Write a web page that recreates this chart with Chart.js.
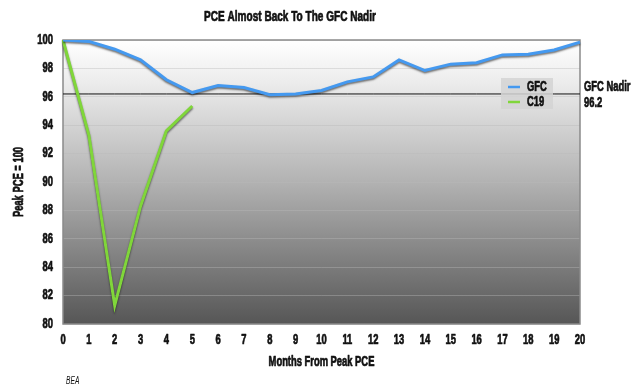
<!DOCTYPE html>
<html>
<head>
<meta charset="utf-8">
<script src="https://cdn.jsdelivr.net/npm/chart.js@4/dist/chart.umd.min.js"></script>
<style>
  html, body { margin: 0; padding: 0; background: #fff; }
  #wrap { width: 640px; height: 390px; position: relative; }
</style>
</head>
<body>
<div id="wrap"><canvas id="c" width="640" height="390"></canvas></div>
<script>
const months = ['0','1','2','3','4','5','6','7','8','9','10','11','12','13','14','15','16','17','18','19','20'];
const gfcValues = [100, 99.9, 99.35, 98.6, 97.2, 96.3, 96.8, 96.65, 96.15, 96.2, 96.45, 97.05, 97.4, 98.6, 97.85, 98.3, 98.4, 98.95, 99.0, 99.3, 99.85];
const c19Values = [100, 93.3, 81.3, 88.3, 93.6, 95.35];
const nadirValue = 96.2;
const nadirLabel = 'GFC Nadir';
const seriesNames = ['GFC', 'C19'];
const yTicksMin = 80, yTicksMax = 100, yTicksStep = 2;
const titleText = 'PCE Almost Back To The GFC Nadir';
const xTitle = 'Months From Peak PCE';
const yTitle = 'Peak PCE = 100';
const sourceText = 'BEA';

// Condensed, heavy look: compress all canvas text horizontally around its anchor
const SX = 0.67;
(function () {
  const proto = CanvasRenderingContext2D.prototype;
  const origFill = proto.fillText;
  const origStroke = proto.strokeText;
  proto.fillText = function (t, x, y, mw) {
    this.save();
    this.translate(x, y);
    this.scale(SX, 1);
    const bold = /bold/.test(this.font);
    if (mw !== undefined) origFill.call(this, t, 0, 0, mw / SX);
    else origFill.call(this, t, 0, 0);
    if (bold) {
      this.lineWidth = 0.7;
      this.lineJoin = 'round';
      this.strokeStyle = this.fillStyle;
      if (mw !== undefined) origStroke.call(this, t, 0, 0, mw / SX);
      else origStroke.call(this, t, 0, 0);
    }
    this.restore();
  };
})();

const FONT = "'Liberation Sans', Arial, Helvetica, sans-serif";
const BLUE = '#4499f0';
const GREEN = '#80d63a';

const bgPlugin = {
  id: 'bgPlugin',
  beforeDraw(chart) {
    const { ctx, chartArea: a } = chart;
    const g = ctx.createLinearGradient(0, a.top, 0, a.bottom);
    g.addColorStop(0, '#ffffff');
    g.addColorStop(0.15, '#ececec');
    g.addColorStop(0.5, '#b2b2b2');
    g.addColorStop(1, '#565656');
    ctx.save();
    ctx.fillStyle = g;
    ctx.fillRect(a.left, a.top, a.right - a.left, a.bottom - a.top);
    ctx.restore();
  },
  beforeDatasetsDraw(chart) {
    const { ctx, chartArea: a } = chart;
    ctx.save();
    ctx.strokeStyle = '#8a8a8a';
    ctx.lineWidth = 1.5;
    ctx.strokeRect(a.left, a.top, a.right - a.left, a.bottom - a.top);
    ctx.restore();
  },
  beforeDatasetDraw(chart, args) {
    if (args.index < 2) {
      const ctx = chart.ctx;
      ctx.save();
      ctx.shadowColor = 'rgba(0,0,0,0.55)';
      ctx.shadowBlur = 2;
      ctx.shadowOffsetX = 0;
      ctx.shadowOffsetY = 1.5;
    }
  },
  afterDatasetDraw(chart, args) {
    if (args.index < 2) chart.ctx.restore();
  },
  afterDraw(chart) {
    const { ctx, chartArea: a, scales } = chart;
    ctx.save();
    // legend box
    const lx = 501, ly = 78, lw = 52, lh = 31;
    ctx.fillStyle = 'rgba(212,212,212,0.85)';
    ctx.fillRect(lx, ly, lw, lh);
    ctx.font = "bold 14px " + FONT;
    ctx.textBaseline = 'middle';
    ctx.textAlign = 'left';
    const ds = chart.data.datasets;
    [0, 1].forEach((i) => {
      const yy = ly + 9 + i * 15;
      ctx.strokeStyle = ds[i].borderColor;
      ctx.lineWidth = 2.5;
      ctx.beginPath();
      ctx.moveTo(lx + 7, yy);
      ctx.lineTo(lx + 19, yy);
      ctx.stroke();
      ctx.fillStyle = '#111';
      ctx.fillText(ds[i].label, lx + 26, yy);
    });
    // nadir label
    const ny = scales.y.getPixelForValue(nadirValue);
    ctx.fillStyle = '#111';
    ctx.fillText(nadirLabel, a.right + 4, ny - 7);
    ctx.fillText(String(nadirValue), a.right + 4, ny + 9);
    // source
    ctx.font = "italic 10px " + FONT;
    ctx.fillText(sourceText, 66, 381);
    ctx.restore();
  }
};

new Chart(document.getElementById('c'), {
  type: 'line',
  data: {
    labels: months,
    datasets: [
      { label: seriesNames[0], data: gfcValues, borderColor: BLUE, backgroundColor: BLUE, borderWidth: 3, pointRadius: 0, tension: 0 },
      { label: seriesNames[1], data: c19Values, borderColor: GREEN, backgroundColor: GREEN, borderWidth: 3, pointRadius: 0, tension: 0 },
      { label: nadirLabel, data: months.map(() => nadirValue), borderColor: '#111', borderWidth: 1, pointRadius: 0 }
    ]
  },
  options: {
    responsive: false,
    animation: false,
    devicePixelRatio: 1,
    layout: { padding: { top: 0, right: 60, bottom: 15, left: 0 } },
    plugins: {
      legend: { display: false },
      tooltip: { enabled: false },
      title: {
        display: true,
        text: titleText,
        color: '#111',
        font: { family: FONT, size: 15, weight: 'bold', lineHeight: 1.2 },
        padding: { top: 8, bottom: 14 }
      }
    },
    scales: {
      x: {
        type: 'category',
        offset: false,
        grid: { display: false, drawTicks: false },
        border: { display: false },
        ticks: { color: '#111', font: { family: FONT, size: 14, weight: 'bold' }, padding: 8, maxRotation: 0, autoSkip: false },
        title: { display: true, text: xTitle, color: '#111', font: { family: FONT, size: 14, weight: 'bold' }, padding: { top: 4, bottom: 4 } },
        afterFit(s) { s.height = 51; }
      },
      y: {
        min: yTicksMin, max: yTicksMax,
        grid: { color: 'rgba(185,185,185,0.4)', lineWidth: 1, drawTicks: false },
        border: { display: false },
        ticks: { stepSize: yTicksStep, color: '#111', font: { family: FONT, size: 14, weight: 'bold' }, padding: 10 },
        title: { display: true, text: yTitle, color: '#111', font: { family: FONT, size: 14, weight: 'bold' }, padding: { top: 11, bottom: 4 } },
        afterFit(s) { s.width = 63; }
      }
    }
  },
  plugins: [bgPlugin]
});
</script>
</body>
</html>
